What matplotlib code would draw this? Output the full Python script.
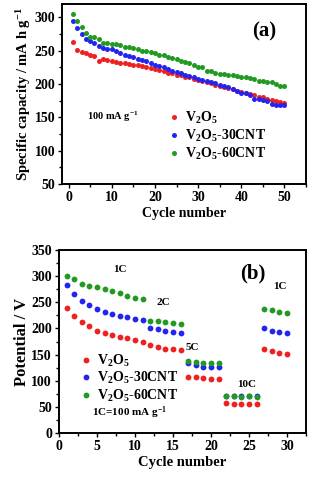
import matplotlib
matplotlib.use("Agg")
import matplotlib.pyplot as plt
from matplotlib.ticker import MultipleLocator

plt.rcParams['font.family'] = ['Liberation Serif', 'DejaVu Serif']
plt.rcParams['font.weight'] = 'bold'
plt.rcParams['mathtext.fontset'] = 'custom'
plt.rcParams['mathtext.rm'] = 'Liberation Serif:bold'
plt.rcParams['mathtext.it'] = 'Liberation Serif:bold'
plt.rcParams['mathtext.bf'] = 'Liberation Serif:bold'
plt.rcParams['mathtext.default'] = 'rm'

# ---- panel (a) data ----
cycles_a = list(range(1, 51))
v2o5_a = [263, 251, 248, 246, 244, 242, 234, 237, 236, 235,
          233, 232, 231, 230, 229, 228, 227, 226, 224, 222,
          221, 219, 217, 216, 214, 213, 211, 210, 208, 206,
          204, 203, 201, 199, 197, 196, 194, 192, 190, 188,
          186, 185, 183, 181, 180, 178, 176, 174, 173, 171]
cnt30_a = [295, 284, 275, 268, 265, 262, 257, 254, 253, 252,
           249, 246, 244, 242, 240, 238, 236, 234, 231, 229,
           227, 225, 222, 220, 218, 216, 214, 212, 210, 208,
           206, 205, 203, 201, 199, 197, 195, 193, 190, 187,
           186, 184, 178, 177, 176, 174, 170, 169, 168, 168]
cnt60_a = [305, 294, 285, 276, 271, 270, 268, 262, 261, 260,
           260, 258, 256, 255, 254, 252, 250, 249, 248, 247,
           244, 243, 241, 239, 237, 235, 233, 231, 229, 226,
           225, 220, 219, 217, 215, 215, 214, 213, 212, 211,
           210, 209, 207, 205, 204, 203, 203, 200, 197, 197]

# ---- panel (b) data ----
cycles_b = list(range(1, 31))
v2o5_b = [240, 224, 213, 204, 196, 191, 187, 183, 181, 178, 175,
          168, 165, 161, 160, 159,
          108, 108, 106, 104, 103,
          57, 56, 55, 55, 55,
          161, 157, 153, 152]
cnt30_b = [284, 265, 253, 244, 237, 232, 227, 223, 221, 218, 216,
           200, 199, 196, 194, 192,
           134, 131, 127, 127, 127,
           71, 71, 70, 70, 70,
           201, 195, 193, 191]
cnt60_b = [301, 295, 286, 282, 280, 275, 271, 267, 263, 259, 256,
           215, 214, 212, 210, 209,
           137, 135, 134, 133, 133,
           71, 70, 69, 70, 69,
           237, 235, 232, 229]

labels = ['V$_2$O$_5$', 'V$_2$O$_5$-30CNT', 'V$_2$O$_5$-60CNT']
colors = ['#ee2020', '#2424f0', '#229a22']

fig = plt.figure(figsize=(3.12, 4.8), dpi=100)
ax1 = fig.add_axes([0.199, 0.617, 0.782, 0.375])
ax2 = fig.add_axes([0.189, 0.098, 0.792, 0.381])

ms = 3.6
for ys, c, lab in zip([v2o5_a, cnt30_a, cnt60_a], colors, labels):
    ax1.plot(cycles_a, ys, 'o', color=c, ms=ms, mew=0, label=lab)
ax1.set_xlim(-1.5, 55)
ax1.set_ylim(50, 320)
ax1.xaxis.set_major_locator(MultipleLocator(10))
ax1.xaxis.set_minor_locator(MultipleLocator(5))
ax1.yaxis.set_major_locator(MultipleLocator(50))
ax1.yaxis.set_minor_locator(MultipleLocator(25))
ax1.set_xlabel('Cycle number', fontsize=10, fontweight='bold', labelpad=2)
ax1.set_ylabel('Specific capacity / mA h g$^{-1}$', fontsize=10.5, fontweight='bold', labelpad=1)
ax1.text(45.2, 278, '(a)', fontsize=15, fontweight='bold', ha='center', va='center')
ax1.text(4.3, 151, '100 mA g$^{-1}$', fontsize=7.5, fontweight='bold', ha='left', va='center')
leg1 = ax1.legend(loc='upper left', bbox_to_anchor=(0.42, 0.44), frameon=False,
                  fontsize=10, handlelength=0.6, handletextpad=0.5,
                  labelspacing=0.12, borderaxespad=0, markerscale=1.0)

for ys, c, lab in zip([v2o5_b, cnt30_b, cnt60_b], colors, labels):
    ax2.plot(cycles_b, ys, 'o', color=c, ms=ms + 0.6, mew=0, label=lab)
ax2.set_xlim(0, 32.5)
ax2.set_ylim(0, 350)
ax2.xaxis.set_major_locator(MultipleLocator(5))
ax2.xaxis.set_minor_locator(MultipleLocator(2.5))
ax2.yaxis.set_major_locator(MultipleLocator(50))
ax2.yaxis.set_minor_locator(MultipleLocator(25))
ax2.set_xlabel('Cycle number', fontsize=10.5, fontweight='bold', labelpad=2)
ax2.set_ylabel('Potential / V', fontsize=12, fontweight='bold', labelpad=1)
ax2.text(25.5, 306, '(b)', fontsize=15, fontweight='bold', ha='center', va='center')
ax2.text(8.0, 312, '1C', fontsize=8, fontweight='bold', ha='center', va='center')
ax2.text(13.7, 250, '2C', fontsize=8, fontweight='bold', ha='center', va='center')
ax2.text(17.6, 164, '5C', fontsize=8, fontweight='bold', ha='center', va='center')
ax2.text(24.7, 92, '10C', fontsize=8, fontweight='bold', ha='center', va='center')
ax2.text(29.0, 280, '1C', fontsize=8, fontweight='bold', ha='center', va='center')
ax2.text(0.133, 0.109, '1C=100 mA g$^{-1}$', transform=ax2.transAxes,
         fontsize=8, fontweight='bold', ha='left', va='center')
leg2 = ax2.legend(loc='upper left', bbox_to_anchor=(0.07, 0.47), frameon=False,
                  fontsize=10, handlelength=0.6, handletextpad=0.5,
                  labelspacing=0.12, borderaxespad=0)

for ax in (ax1, ax2):
    for s in ax.spines.values():
        s.set_linewidth(1.4)
    ax.tick_params(which='both', direction='out', width=1.0, labelsize=10, pad=2)
    ax.tick_params(which='major', length=3)
    ax.tick_params(which='minor', length=2)
    for t in ax.get_xticklabels() + ax.get_yticklabels():
        t.set_fontweight('bold')

fig.savefig('out.png', dpi=100)
